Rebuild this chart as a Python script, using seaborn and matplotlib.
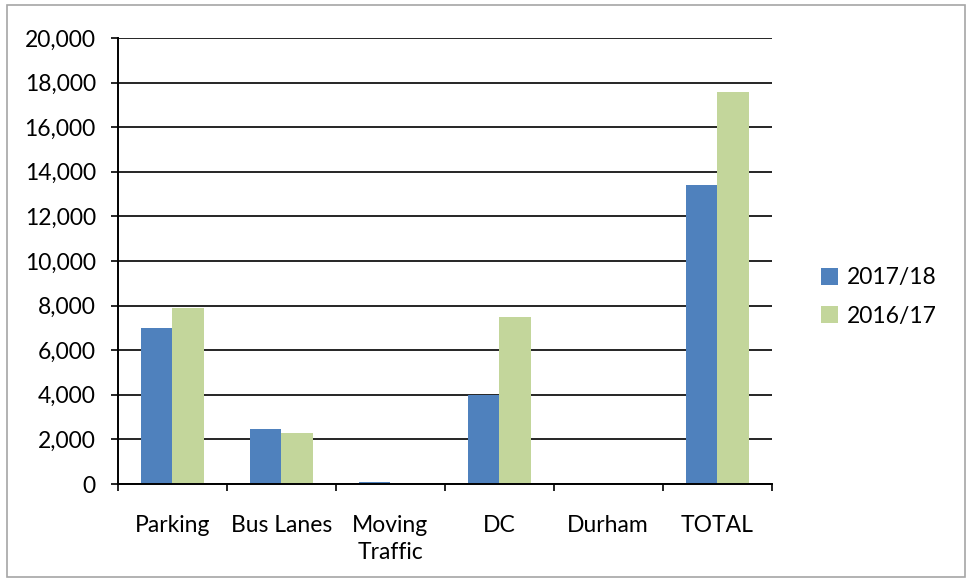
import matplotlib
matplotlib.use("Agg")
import matplotlib.pyplot as plt
from matplotlib.patches import Rectangle
from matplotlib.ticker import FuncFormatter, MultipleLocator, FixedLocator
import seaborn as sns
import pandas as pd

categories = ["Parking", "Bus Lanes", "Moving\nTraffic", "DC", "Durham", "TOTAL"]
series_names = ["2017/18", "2016/17"]
values_2017_18 = [7000, 2450, 100, 4000, 0, 13400]
values_2016_17 = [7900, 2300, 0, 7500, 0, 17600]
colors = ["#4f81bd", "#c3d69b"]

df = pd.DataFrame({
    "category": categories * 2,
    "year": [series_names[0]] * len(categories) + [series_names[1]] * len(categories),
    "value": values_2017_18 + values_2016_17,
})

sns.set_theme(style="white")
plt.rcParams["font.family"] = ["Lato", "DejaVu Sans"]
FS = 16.5

fig = plt.figure(figsize=(9.67, 5.78), dpi=100)
ax = fig.add_axes([0.122, 0.1626, 0.676, 0.7716])

sns.barplot(data=df, x="category", y="value", hue="year", order=categories,
            hue_order=series_names, palette=colors, width=0.58, saturation=1,
            linewidth=0, ax=ax, zorder=3)

ax.set_xlim(-0.5, len(categories) - 0.5)
ax.set_ylim(0, 20000)
ax.yaxis.set_major_locator(MultipleLocator(2000))
ax.yaxis.set_major_formatter(FuncFormatter(lambda v, p: f"{int(v):,}"))
ax.grid(axis="y", color="black", linewidth=1.2, zorder=0)
ax.grid(axis="x", visible=False)
ax.set_axisbelow(True)

for side in ["top", "right"]:
    ax.spines[side].set_visible(False)
for side in ["left", "bottom"]:
    ax.spines[side].set_color("black")
    ax.spines[side].set_linewidth(1.4)
    ax.spines[side].set_zorder(4)

ax.tick_params(axis="y", left=True, length=5, width=1.2, color="black",
               labelsize=FS, labelcolor="black", pad=11)
ax.tick_params(axis="x", which="major", bottom=False, length=0,
               labelsize=FS, labelcolor="black", pad=22)
for lbl in ax.get_xticklabels():
    lbl.set_linespacing(1.4)
ax.xaxis.set_minor_locator(FixedLocator([i - 0.5 for i in range(len(categories) + 1)]))
ax.tick_params(axis="x", which="minor", bottom=True, length=5, width=1.2,
               color="black")
ax.set_xlabel("")
ax.set_ylabel("")

ax.get_legend().remove()
handles, labels = ax.get_legend_handles_labels()
leg = fig.legend(handles, labels, loc="center left",
                 bbox_to_anchor=(812 / 967, 1 - 297 / 578), frameon=False,
                 fontsize=FS, handlelength=0.75, handleheight=0.75,
                 handletextpad=0.35, labelspacing=0.75, borderaxespad=0)
for t in leg.get_texts():
    t.set_color("black")

fig.patches.append(Rectangle((7 / 967, 1 / 578), 958 / 967, 572 / 578,
                             transform=fig.transFigure, fill=False,
                             edgecolor="#a6a6a6", linewidth=1.2))

fig.savefig("out.png", dpi=100)
